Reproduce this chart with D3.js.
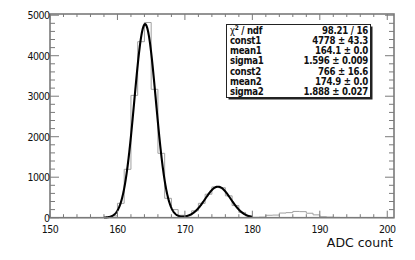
<!DOCTYPE html>
<html><head><meta charset="utf-8">
<script src="https://cdn.jsdelivr.net/npm/d3@7"></script>
<style>
html,body{margin:0;padding:0;background:#fff;}
svg{display:block;font-family:"DejaVu Sans",sans-serif;}
</style></head>
<body>
<script>
// ---- data ----
const binStart = 150;       // low edge of first bin, bin width 1
const counts = [0,0,0,0,0,0,0,2,10,45,
  355,1195,3020,4346,4820,3170,1590,479,200,60,
  50,170,355,580,760,740,540,300,130,40,
  10,15,60,65,115,125,155,150,110,70,
  25,15,8,5,5,3,5,3,3,2,2];
const xTicks = [150,160,170,180,190,200];
const yTicks = [0,1000,2000,3000,4000,5000];
const fitParams = {const1:4778, mean1:164.1, sigma1:1.596, const2:766, mean2:174.9, sigma2:1.888};
const fitRange = [158,180];
const statLabels = ["\u03C7\u00B2 / ndf","const1","mean1","sigma1","const2","mean2","sigma2"];
const statValues = ["98.21 / 16","4778 \u00B1 43.3","164.1 \u00B1 0.0","1.596 \u00B1 0.009","766 \u00B1 16.6","174.9 \u00B1 0.0","1.888 \u00B1 0.027"];
const xTitle = "ADC count";

// ---- layout ----
const W=415,H=260;
const L=50,R=394,T=14,B=217.7;
const svg=d3.select("body").append("svg").attr("width",W).attr("height",H);
const x=d3.scaleLinear().domain([150,201]).range([L,R]);
const y=d3.scaleLinear().domain([0,5030]).range([B,T]);

// histogram outline
const pts=[];
counts.forEach((c,i)=>{pts.push([binStart+i,c]);});
pts.push([binStart+counts.length,counts[counts.length-1]]);
svg.append("path").attr("d",d3.line().x(d=>x(d[0])).y(d=>y(d[1])).curve(d3.curveStepAfter)(pts))
  .attr("fill","none").attr("stroke","#a0a0a0").attr("stroke-width",1);

// fit curve
const f=v=>fitParams.const1*Math.exp(-0.5*((v-fitParams.mean1)/fitParams.sigma1)**2)
        +fitParams.const2*Math.exp(-0.5*((v-fitParams.mean2)/fitParams.sigma2)**2);
const fx=d3.range(fitRange[0],fitRange[1]+0.001,0.05);
svg.append("path").attr("d",d3.line().x(d=>x(d)).y(d=>y(f(d))).curve(d3.curveLinear)(fx))
  .attr("fill","none").attr("stroke","#000").attr("stroke-width",2.1);

// axes frame
const axCol="#7a7a7a";
const g=svg.append("g");
const xMinor=d3.range(150,201,2);
xMinor.forEach(v=>{
  const maj=xTicks.includes(v);
  g.append("line").attr("x1",x(v)).attr("x2",x(v)).attr("y1",B).attr("y2",B-(maj?7:3.5)).attr("stroke",axCol);
  g.append("line").attr("x1",x(v)).attr("x2",x(v)).attr("y1",T).attr("y2",T+(maj?6:3)).attr("stroke",axCol);
});
const yMinor=d3.range(0,5001,200);
yMinor.forEach(v=>{
  const maj=yTicks.includes(v);
  g.append("line").attr("x1",L).attr("x2",L+(maj?9:5)).attr("y1",y(v)).attr("y2",y(v)).attr("stroke",axCol);
  g.append("line").attr("x1",R).attr("x2",R-(maj?9:5)).attr("y1",y(v)).attr("y2",y(v)).attr("stroke",axCol);
});
g.append("rect").attr("x",L).attr("y",T).attr("width",R-L).attr("height",B-T)
  .attr("fill","none").attr("stroke",axCol).attr("stroke-width",1.6);

// tick labels
const tf="font-size:10.5px;font-stretch:condensed;letter-spacing:-0.5px;";
svg.selectAll(".xl").data(xTicks).enter().append("text")
  .attr("x",d=>x(d)).attr("y",B+15.5).attr("text-anchor","middle").attr("style",tf).attr("fill","#111").text(d=>d);
svg.selectAll(".yl").data(yTicks).enter().append("text")
  .attr("x",L-0.5).attr("y",d=>y(d)+3.8).attr("text-anchor","end").attr("style",tf).attr("fill","#111").text(d=>d);

// x title
svg.append("text").attr("x",393).attr("y",247).attr("text-anchor","end")
  .attr("style","font-size:12.5px;").attr("fill","#111").text(xTitle);

// stats box
const bx=226.5,by=24.5,bw=144,bh=73;
svg.append("rect").attr("x",bx+2).attr("y",by+2).attr("width",bw).attr("height",bh).attr("fill","#222");
svg.append("rect").attr("x",bx).attr("y",by).attr("width",bw).attr("height",bh).attr("fill","#fff").attr("stroke","#222").attr("stroke-width",1);
const sf="font-size:9.6px;font-weight:bold;font-stretch:condensed;letter-spacing:-0.25px;";
statLabels.forEach((t,i)=>{
  const ty=by+9.2+i*10.2;
  const te=svg.append("text").attr("x",bx+3.5).attr("y",ty).attr("style",sf).attr("fill","#111");
  if(i===0){
    te.append("tspan").attr("style","font-weight:normal").text("\u03C7");
    te.append("tspan").attr("dy",-3.5).attr("style","font-size:6.5px").text("2");
    te.append("tspan").attr("dy",3.5).text(" / ndf");
  } else te.text(t);
  svg.append("text").attr("x",bx+bw-2.5).attr("y",ty).attr("text-anchor","end").attr("style",sf).attr("fill","#111").text(statValues[i]);
});
</script>
</body></html>
